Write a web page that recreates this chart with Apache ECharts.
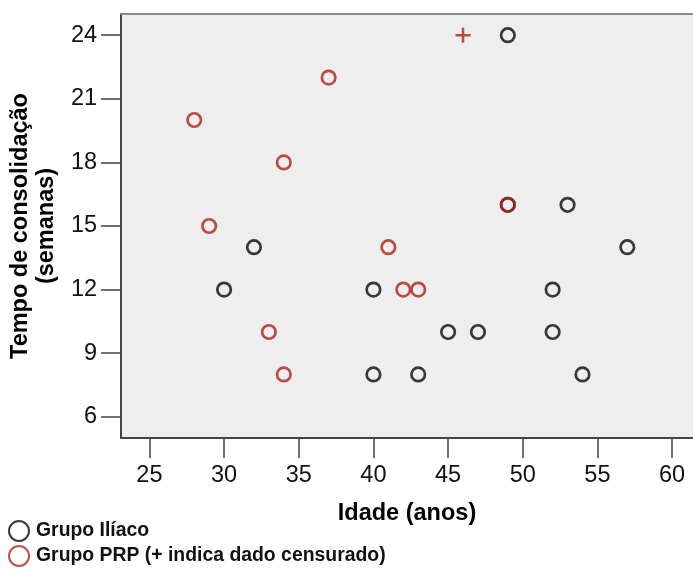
<!DOCTYPE html>
<html><head><meta charset="utf-8">
<script src="https://cdn.jsdelivr.net/npm/echarts@6/dist/echarts.min.js"></script>
<style>html,body{margin:0;padding:0;background:#fff}#c{width:693px;height:569px}</style>
</head><body><div id="c"></div>
<script>
// Data (idade em anos, tempo de consolidação em semanas)
const iliacoIdade = [49, 53, 57, 32, 30, 40, 52, 45, 47, 52, 40, 43, 54, 49];
const iliacoTempo = [24, 16, 14, 14, 12, 12, 12, 10, 10, 10, 8, 8, 8, 16];
const prpIdade = [28, 37, 34, 29, 41, 42, 43, 33, 34, 49];
const prpTempo = [20, 22, 18, 15, 14, 12, 12, 10, 8, 16];
const censIdade = [46];
const censTempo = [24];
const xTicks = [25, 30, 35, 40, 45, 50, 55, 60];
const yTicks = [6, 9, 12, 15, 18, 21, 24];

const pairs = (a, b) => a.map((v, i) => [v, b[i]]);
const font = 'Liberation Sans, Arial, sans-serif';
const RED = '#b0221a', BLK = '#0a0a0a';
const legendText = { fontFamily: font, fontWeight: 'bold', fontSize: 19.4, color: '#111', padding: [0, 0, 0, 2] };

const chart = echarts.init(document.getElementById('c'));
chart.setOption({
  animation: false,
  grid: { left: 121, top: 14, right: 0, bottom: 131, show: true, backgroundColor: '#eeeeee', borderWidth: 0 },
  xAxis: [{
    type: 'value', min: 23.1, max: 61.4,
    name: 'Idade (anos)', nameLocation: 'middle', nameGap: 64,
    nameTextStyle: { fontFamily: font, fontWeight: 'bold', fontSize: 23.5, color: '#000' },
    axisLine: { show: true, onZero: false, lineStyle: { color: '#444', width: 2 } },
    axisTick: { show: true, length: 20, lineStyle: { color: '#444', width: 1.5 }, customValues: xTicks },
    axisLabel: { fontFamily: font, fontSize: 23.5, color: '#111', margin: 26, customValues: xTicks },
    splitLine: { show: false }
  }, {
    type: 'value', min: 23.1, max: 61.4, position: 'top',
    axisLine: { show: true, onZero: false, lineStyle: { color: '#8a8a8a', width: 2 } },
    axisTick: { show: false }, axisLabel: { show: false }, splitLine: { show: false }
  }],
  yAxis: {
    type: 'value', min: 5, max: 25,
    name: 'Tempo de consolidação\n(semanas)', nameLocation: 'middle', nameGap: 59,
    nameTextStyle: { fontFamily: font, fontWeight: 'bold', fontSize: 23.5, color: '#000', lineHeight: 26 },
    axisLine: { show: true, onZero: false, lineStyle: { color: '#444', width: 2 } },
    axisTick: { show: true, length: 20, lineStyle: { color: '#444', width: 1.5 }, customValues: yTicks },
    axisLabel: { fontFamily: font, fontSize: 23.5, color: '#111', margin: 24, customValues: yTicks },
    splitLine: { show: false }
  },
  legend: [{
    left: 8, top: 520, itemWidth: 20, itemHeight: 20, padding: 0, itemGap: 0,
    textStyle: legendText, data: ['Grupo Ilíaco']
  }, {
    left: 8, top: 545, itemWidth: 20, itemHeight: 20, padding: 0, itemGap: 0,
    textStyle: legendText, data: ['Grupo PRP (+ indica dado censurado)']
  }],
  series: [{
    name: 'Grupo Ilíaco', type: 'scatter', data: pairs(iliacoIdade, iliacoTempo),
    symbol: 'circle', symbolSize: 13.5,
    itemStyle: { color: 'rgba(0,0,0,0)', borderColor: BLK, borderWidth: 2.7 }
  }, {
    name: 'Grupo PRP (+ indica dado censurado)', type: 'scatter', data: pairs(prpIdade, prpTempo),
    symbol: 'circle', symbolSize: 13.5,
    itemStyle: { color: 'rgba(0,0,0,0)', borderColor: RED, borderWidth: 2.7 }
  }, {
    name: 'Censurado', type: 'scatter', data: pairs(censIdade, censTempo),
    symbol: 'path://M-1.2,-7H1.2V-1.2H7V1.2H1.2V7H-1.2V1.2H-7V-1.2H-1.2Z', symbolSize: 15,
    itemStyle: { color: RED }
  }]
});
</script></body></html>
